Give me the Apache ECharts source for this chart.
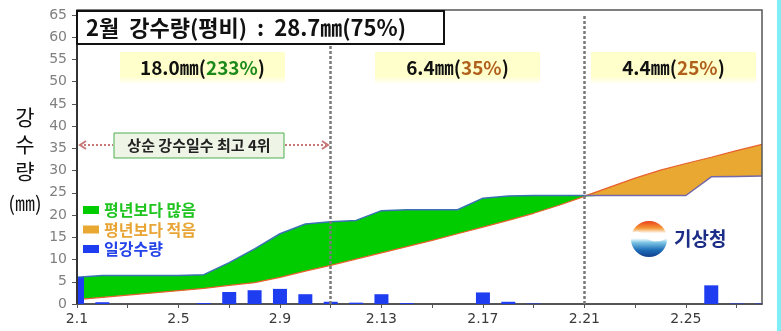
<!DOCTYPE html>
<html>
<head>
<meta charset="utf-8">
<script src="https://cdn.jsdelivr.net/npm/echarts@6/dist/echarts.min.js"></script>
<style>
  html, body { margin: 0; padding: 0; background: #ffffff; }
  #chart { width: 781px; height: 331px; }
</style>
</head>
<body>
<div id="chart"></div>
<script>
// February days (x axis categories)
const days = ['2.1','2.2','2.3','2.4','2.5','2.6','2.7','2.8','2.9','2.10',
              '2.11','2.12','2.13','2.14','2.15','2.16','2.17','2.18','2.19','2.20',
              '2.21','2.22','2.23','2.24','2.25','2.26','2.27','2.28'];

// daily precipitation (mm)
const dailyRain = [6.0, 0.4, 0, 0, 0, 0.2, 2.7, 3.1, 3.4, 2.2,
                   0.5, 0.3, 2.2, 0.2, 0, 0, 2.6, 0.5, 0.1, 0,
                   0, 0, 0, 0, 0, 4.2, 0.1, 0.1];

// climatological normal, accumulated from 1 Feb (mm)
const normalCum = [1.0, 1.5, 2.0, 2.5, 3.0, 3.5, 4.2, 4.8, 6.0, 7.4,
                   8.7, 10.1, 11.5, 12.9, 14.3, 15.8, 17.3, 18.8, 20.4, 22.2,
                   24.2, 26.3, 28.3, 30.1, 31.6, 33.0, 34.5, 35.9];

// ten-day totals and percent of normal
const dekadTotals = [18.0, 6.4, 4.4];
const dekadPercent = [233, 35, 25];

// monthly summary
const monthTotal = 28.7;
const monthPercent = 75;

// y axis ticks
const yMin = 0, yMax = 65, yStep = 5;

// accumulated observed precipitation
const obsCum = [];
dailyRain.reduce((acc, v) => { const s = Math.round((acc + v) * 10) / 10; obsCum.push(s); return s; }, 0);

// stacked bands: common base, surplus (green), deficit (orange)
const bandBase = obsCum.map((v, i) => Math.min(v, normalCum[i]));
const bandOver = obsCum.map((v, i) => Math.max(v - normalCum[i], 0));
const bandUnder = obsCum.map((v, i) => Math.max(normalCum[i] - v, 0));

const splitIdx = 20; // 2.21
const obsBlue = obsCum.map((v, i) => i <= splitIdx ? v : '-');
const obsPurple = obsCum.map((v, i) => i >= splitIdx ? v : '-');

const KR = '"Noto Sans CJK KR", "Noto Sans", sans-serif';
const NUM = '"DejaVu Sans", "Noto Sans CJK KR", sans-serif';

const GREEN = '#00cc00';
const ORANGE = '#e8a832';
const BLUE = '#1e3cf0';
const BAR_W = 14;

function dekadText(i) {
  const cls = dekadPercent[i] >= 100 ? 'g' : 'o';
  return '{a|' + dekadTotals[i].toFixed(1) + '㎜(}{' + cls + '|' + dekadPercent[i] + '%}{a|)}';
}

const dekadRich = {
  a: { fontSize: 19, fontWeight: 'bold', fill: '#111111', fontFamily: KR },
  g: { fontSize: 19, fontWeight: 'bold', fill: '#1b8a1b', fontFamily: KR },
  o: { fontSize: 19, fontWeight: 'bold', fill: '#b0601c', fontFamily: KR }
};

const dekadBoxes = [120, 375, 591];
const dekadGraphics = dekadBoxes.map((x, i) => ({
  type: 'group', x: x, y: 52, z: 20,
  children: [
    { type: 'rect', shape: { x: 0, y: 0, width: 165, height: 31 },
      style: { fill: new echarts.graphic.LinearGradient(0, 0, 0, 1, [
        { offset: 0, color: '#ffffcc' }, { offset: 0.78, color: '#ffffcc' }, { offset: 1, color: '#fffff2' }]) } },
    { type: 'text', x: 82.5, y: 16,
      style: { text: dekadText(i), rich: dekadRich, align: 'center', verticalAlign: 'middle' } }
  ]
}));

const chart = echarts.init(document.getElementById('chart'), null, { renderer: 'canvas' });

chart.setOption({
  animation: false,
  backgroundColor: '#ffffff',
  grid: { left: 77, right: 19, top: 15, bottom: 27, containLabel: false },
  legend: {
    orient: 'vertical', left: 83, top: 202, padding: 0,
    itemWidth: 16, itemHeight: 8, itemGap: 3.5, icon: 'rect',
    textStyle: { fontSize: 16, fontWeight: 'bold', fontFamily: KR },
    data: [
      { name: '평년보다 많음', itemStyle: { color: GREEN }, textStyle: { color: '#1fc41f' } },
      { name: '평년보다 적음', itemStyle: { color: ORANGE }, textStyle: { color: '#e8a535' } },
      { name: '일강수량', itemStyle: { color: BLUE }, textStyle: { color: '#2444e8' } }
    ],
    selectedMode: false
  },
  xAxis: {
    type: 'category', data: days, boundaryGap: false,
    axisLine: { lineStyle: { color: '#555', width: 2 } },
    axisTick: { interval: 1, length: 4, lineStyle: { color: '#555' } },
    axisLabel: { interval: 3, color: '#3a3a3a', fontSize: 14, fontFamily: NUM, margin: 8 },
    splitLine: { show: false }
  },
  yAxis: {
    type: 'value', min: yMin, max: yMax, interval: yStep,
    axisLine: { show: true, lineStyle: { color: '#333', width: 2 } },
    axisTick: { show: true, length: 5, lineStyle: { color: '#555' } },
    axisLabel: { color: '#808080', fontSize: 14, fontFamily: NUM, margin: 10 },
    splitLine: { show: false }
  },
  series: [
    { name: 'base', type: 'line', stack: 'cum', data: bandBase, symbol: 'none',
      lineStyle: { width: 0, opacity: 0 }, silent: true, z: 2 },
    { name: '평년보다 많음', type: 'line', stack: 'cum', data: bandOver, symbol: 'none',
      color: GREEN, lineStyle: { width: 0, opacity: 0 }, areaStyle: { color: GREEN, opacity: 1 }, z: 2 },
    { name: '평년보다 적음', type: 'line', stack: 'cum', data: bandUnder, symbol: 'none',
      color: ORANGE, lineStyle: { width: 0, opacity: 0 }, areaStyle: { color: ORANGE, opacity: 1 }, z: 2 },
    { name: 'normal', type: 'line', data: normalCum, symbol: 'none',
      lineStyle: { color: '#e8602c', width: 1.2 }, z: 3,
      markLine: {
        silent: true, symbol: 'none', label: { show: false },
        lineStyle: { color: '#7a7a7a', width: 2.5, type: [3, 2] },
        data: [{ xAxis: '2.11' }, { xAxis: '2.21' }]
      }
    },
    { name: 'obs1', type: 'line', data: obsBlue, symbol: 'none',
      lineStyle: { color: '#3a72b4', width: 1.5 }, z: 3 },
    { name: 'obs2', type: 'line', data: obsPurple, symbol: 'none',
      lineStyle: { color: '#7468a8', width: 1.5 }, z: 3 },
    // daily bars, clipped to the plot area
    { name: '일강수량', type: 'custom', clip: true, z: 4,
      data: dailyRain.map((v, i) => [days[i], v]),
      encode: { x: 0, y: 1 },
      itemStyle: { color: BLUE },
      renderItem: function (params, api) {
        const v = api.value(1);
        const top = api.coord([api.value(0), v]);
        const base = api.coord([api.value(0), 0]);
        return {
          type: 'rect',
          shape: { x: top[0] - BAR_W / 2, y: top[1], width: BAR_W, height: base[1] - top[1] },
          style: { fill: BLUE }
        };
      }
    }
  ],
  graphic: [
    // plot frame
    { type: 'polyline', z: 10, shape: { points: [[77, 304], [77, 10], [762, 10], [762, 304]] },
      style: { stroke: '#555', lineWidth: 1.5, fill: null } },
    { type: 'line', z: 10, shape: { x1: 77, y1: 10, x2: 77, y2: 304 }, style: { stroke: '#333', lineWidth: 2 } },
    // right edge strip
    { type: 'rect', z: 10, shape: { x: 777, y: 0, width: 4, height: 331 }, style: { fill: '#80eef6' } },
    // monthly title box
    { type: 'rect', z: 20, shape: { x: 77, y: 11, width: 367, height: 33 },
      style: { fill: '#ffffff', stroke: '#111', lineWidth: 2 } },
    { type: 'text', z: 21, x: 86, y: 28,
      style: { text: '2월  강수량(평비)  :  ' + monthTotal.toFixed(1) + '㎜(' + monthPercent + '%)',
        fontSize: 22, fontWeight: 'bold', fill: '#111', fontFamily: KR, verticalAlign: 'middle' } },
    ...dekadGraphics,
    // first ten-day note with arrows
    { type: 'line', z: 20, shape: { x1: 80, y1: 145, x2: 113, y2: 145 },
      style: { stroke: '#c87878', lineWidth: 2, lineDash: [2, 2] } },
    { type: 'polyline', z: 20, shape: { points: [[86, 141], [80, 145], [86, 149]] },
      style: { stroke: '#c87878', lineWidth: 2, fill: null } },
    { type: 'line', z: 20, shape: { x1: 285, y1: 145, x2: 327, y2: 145 },
      style: { stroke: '#c87878', lineWidth: 2, lineDash: [2, 2] } },
    { type: 'polyline', z: 20, shape: { points: [[322, 141], [328, 145], [322, 149]] },
      style: { stroke: '#c87878', lineWidth: 2, fill: null } },
    { type: 'rect', z: 20, shape: { x: 114, y: 133, width: 170, height: 25 },
      style: { fill: '#eef4e6', stroke: '#4caf50', lineWidth: 1 } },
    { type: 'text', z: 21, x: 199, y: 145.5,
      style: { text: '상순 강수일수 최고 4위', fontSize: 15, fontWeight: 'bold', fill: '#222',
        fontFamily: KR, align: 'center', verticalAlign: 'middle' } },
    // y axis name
    { type: 'text', z: 20, x: 25, y: 117, style: { text: '강', fontSize: 21, fill: '#111', fontFamily: KR, align: 'center', verticalAlign: 'middle' } },
    { type: 'text', z: 20, x: 25, y: 144, style: { text: '수', fontSize: 21, fill: '#111', fontFamily: KR, align: 'center', verticalAlign: 'middle' } },
    { type: 'text', z: 20, x: 25, y: 171, style: { text: '량', fontSize: 21, fill: '#111', fontFamily: KR, align: 'center', verticalAlign: 'middle' } },
    { type: 'text', z: 20, x: 25, y: 203, style: { text: '(㎜)', fontSize: 20, fill: '#111', fontFamily: KR, align: 'center', verticalAlign: 'middle' } },
    // agency emblem
    { type: 'group', x: 649, y: 239, z: 20, children: [
      { type: 'circle', shape: { cx: 0, cy: 0, r: 18 },
        style: { fill: new echarts.graphic.LinearGradient(0, 0, 0, 1, [
          { offset: 0, color: '#e8401a' }, { offset: 0.2, color: '#f59a38' },
          { offset: 0.34, color: '#ffffff' }, { offset: 0.48, color: '#ffffff' },
          { offset: 0.6, color: '#7cc4e4' }, { offset: 0.8, color: '#1f6fb8' },
          { offset: 1, color: '#123e8c' }]) } },
      { type: 'bezierCurve', shape: { x1: -17, y1: -4, cpx1: -8, cpy1: -12, cpx2: 0, cpy2: 8, x2: 17, y2: -2 },
        style: { stroke: '#ffffff', lineWidth: 3, fill: null } }
    ] },
    { type: 'text', z: 20, x: 674, y: 239,
      style: { text: '기상청', fontSize: 19, fontWeight: 'bold', fill: '#1b2d86', fontFamily: KR, verticalAlign: 'middle' } }
  ]
});
</script>
</body>
</html>
